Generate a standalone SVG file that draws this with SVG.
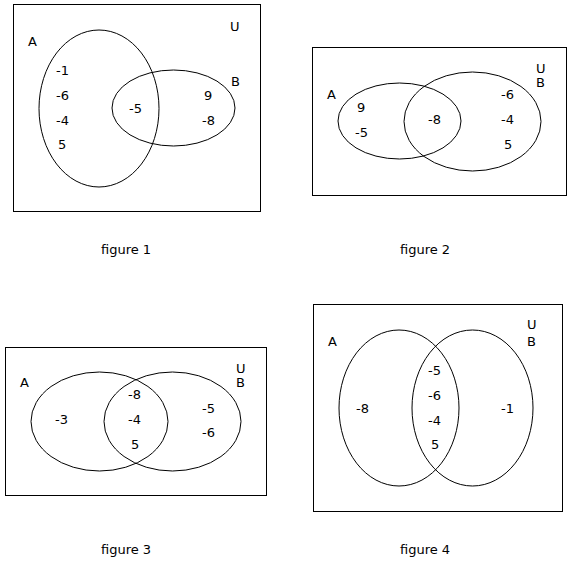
<svg xmlns="http://www.w3.org/2000/svg" width="571" height="564" viewBox="0 0 571 564">
<style>
rect.u{fill:none;stroke:#000;stroke-width:1}
ellipse{fill:none;stroke:#000;stroke-width:1}
text{font-family:"DejaVu Sans",sans-serif;font-size:13px;fill:#000}
</style>
<rect width="571" height="564" fill="#fff"/>
<g id="figure1">
<rect class="u" x="13.5" y="4.5" width="247" height="207"/>
<ellipse cx="99" cy="108.5" rx="60" ry="78.5"/>
<ellipse cx="173.5" cy="108" rx="61.5" ry="38"/>
<text x="28" y="46">A</text>
<text x="230" y="31">U</text>
<text x="231" y="86">B</text>
<text x="56" y="75">-1</text>
<text x="56" y="100">-6</text>
<text x="56" y="125">-4</text>
<text x="58" y="149">5</text>
<text x="129" y="113">-5</text>
<text x="204" y="100">9</text>
<text x="202" y="125">-8</text>
<text x="101" y="254">figure 1</text>
</g>
<g id="figure2">
<rect class="u" x="312.5" y="47.5" width="254" height="148"/>
<ellipse cx="399.5" cy="121" rx="61.5" ry="38"/>
<ellipse cx="472.5" cy="121.5" rx="68.5" ry="49.5"/>
<text x="327" y="99">A</text>
<text x="536" y="73">U</text>
<text x="536" y="87">B</text>
<text x="357" y="112">9</text>
<text x="355" y="137">-5</text>
<text x="428" y="124">-8</text>
<text x="501" y="99">-6</text>
<text x="501" y="124">-4</text>
<text x="504" y="149">5</text>
<text x="400" y="254">figure 2</text>
</g>
<g id="figure3">
<rect class="u" x="5.5" y="347.5" width="261" height="148"/>
<ellipse cx="99.5" cy="421.5" rx="68.5" ry="49.5"/>
<ellipse cx="172.5" cy="421.5" rx="68.5" ry="49.5"/>
<text x="20" y="387">A</text>
<text x="236" y="373">U</text>
<text x="236" y="387">B</text>
<text x="55" y="424">-3</text>
<text x="128" y="399">-8</text>
<text x="128" y="424">-4</text>
<text x="131" y="449">5</text>
<text x="202" y="413">-5</text>
<text x="202" y="437">-6</text>
<text x="101" y="554">figure 3</text>
</g>
<g id="figure4">
<rect class="u" x="313.5" y="304.5" width="249" height="207"/>
<ellipse cx="399" cy="408" rx="60" ry="78"/>
<ellipse cx="472.5" cy="408" rx="60.5" ry="78"/>
<text x="328" y="346">A</text>
<text x="527" y="329">U</text>
<text x="527" y="346">B</text>
<text x="428" y="375">-5</text>
<text x="428" y="400">-6</text>
<text x="428" y="425">-4</text>
<text x="431" y="449">5</text>
<text x="356" y="413">-8</text>
<text x="501" y="413">-1</text>
<text x="400" y="554">figure 4</text>
</g>
</svg>
